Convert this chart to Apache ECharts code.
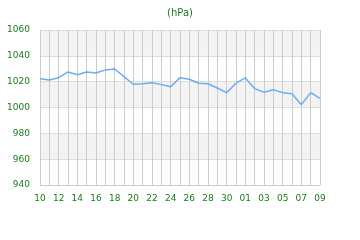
<!DOCTYPE html>
<html><head><meta charset="utf-8">
<script src="https://cdn.jsdelivr.net/npm/echarts@6/dist/echarts.min.js"></script>
<style>html,body{margin:0;padding:0;background:#fff}#c{width:360px;height:240px}</style>
</head><body><div id="c"></div>
<script>
const categories = ['10','11','12','13','14','15','16','17','18','19','20','21','22','23','24','25','26','27','28','29','30','31','01','02','03','04','05','06','07','08','09'];
const pressure = [1022.3,1021.3,1023.1,1027.5,1025.4,1027.5,1026.7,1029.1,1029.8,1023.9,1018.0,1018.4,1019.2,1017.7,1016.1,1023.1,1021.9,1018.8,1018.4,1015.1,1011.5,1018.8,1022.9,1014.6,1011.8,1013.8,1011.5,1010.7,1002.2,1011.5,1007.1];
const yTicks = {min: 940, max: 1060, interval: 20};
const green = '#1a7a1a';
const chart = echarts.init(document.getElementById('c'), null, {renderer: 'canvas'});
chart.setOption({
  animation: false,
  title: {text: '(hPa)', left: 'center', top: 3, textStyle: {color: green, fontSize: 10, fontWeight: 'normal', fontFamily: 'DejaVu Sans'}},
  grid: {left: 40, right: 40, top: 30, bottom: 55, containLabel: false},
  xAxis: {
    type: 'category', data: categories, boundaryGap: false,
    axisLine: {lineStyle: {color: '#cccccc'}},
    axisTick: {show: false},
    axisLabel: {interval: 1, color: green, fontSize: 9, fontFamily: 'DejaVu Sans', margin: 9},
    splitLine: {show: true, interval: 0, lineStyle: {color: '#cccccc', width: 1}}
  },
  yAxis: {
    type: 'value', min: yTicks.min, max: yTicks.max, interval: yTicks.interval,
    axisLine: {show: false}, axisTick: {show: false},
    axisLabel: {color: green, fontSize: 9, fontFamily: 'DejaVu Sans', margin: 10, formatter: v => String(v)},
    splitLine: {show: true, lineStyle: {color: '#dddddd'}},
    splitArea: {show: true, areaStyle: {color: ['#ffffff', '#f3f3f3']}}
  },
  series: [{type: 'line', data: pressure, showSymbol: false, symbol: 'none', lineStyle: {color: '#6aaef2', width: 1.5}}]
});
</script></body></html>
